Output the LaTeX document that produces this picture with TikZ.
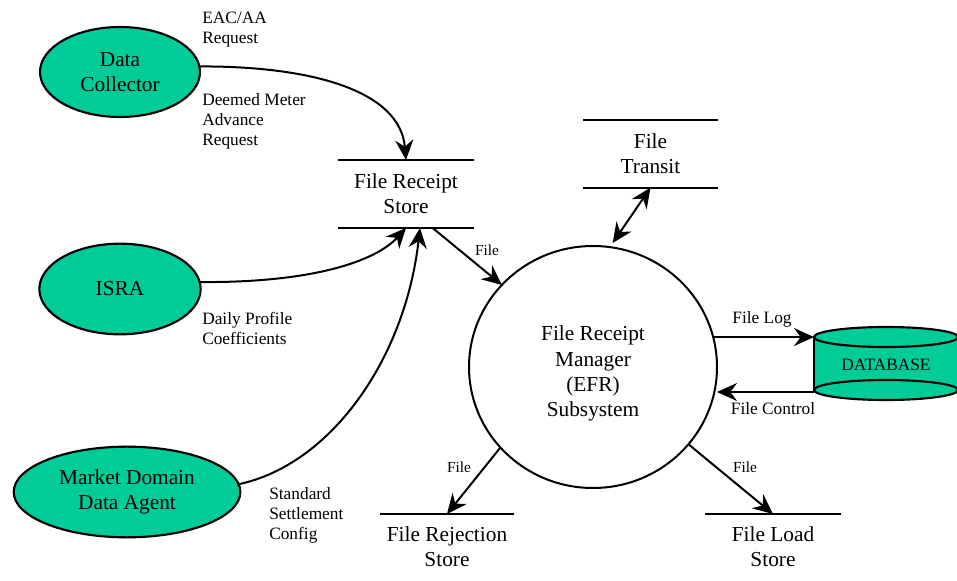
\documentclass[tikz,border=0pt]{standalone}
\usepackage{fontspec}
\setmainfont{Liberation Serif}
\usetikzlibrary{shapes.geometric,arrows.meta}
\definecolor{agentgreen}{RGB}{0,204,153}
\tikzset{
  big/.style={font=\fontsize{16}{19}\selectfont, align=center},
  small/.style={font=\fontsize{13}{15}\selectfont, align=left, inner sep=0pt},
  tiny/.style={font=\fontsize{11.5}{14}\selectfont, inner sep=0pt},
  agent/.style={ellipse, draw, line width=1.6pt, fill=agentgreen, inner sep=0pt, outer sep=0pt, big},
  process/.style={ellipse, draw, line width=1.5pt, inner sep=0pt, outer sep=0pt, big},
  store/.style={big, inner sep=0pt, outer sep=0pt,
    append after command={
      \pgfextra{\draw[line width=1.6pt] (\tikzlastnode.north west) -- (\tikzlastnode.north east)
        (\tikzlastnode.south west) -- (\tikzlastnode.south east);}}},
  opstore/.style={big, inner sep=0pt, outer sep=0pt,
    append after command={
      \pgfextra{\draw[line width=1.6pt] (\tikzlastnode.north west) -- (\tikzlastnode.north east);}}},
  tip/.style={Stealth[length=15pt,width=13.5pt,inset=5pt]},
  flow/.style={line width=1.5pt, -{Stealth[length=15pt,width=13.5pt,inset=5pt]}},
  twoway/.style={line width=1.5pt, {Stealth[length=15pt,width=13.5pt,inset=5pt]}-{Stealth[length=15pt,width=13.5pt,inset=5pt]}},
}
\begin{document}
\begin{tikzpicture}[x=0.75pt,y=-0.75pt]
\useasboundingbox (0,0) rectangle (957,581);

% external agents
\node[agent, minimum width=120pt, minimum height=67.5pt] (dc) at (120,72) {Data\\Collector};
\node[agent, minimum width=121pt, minimum height=68pt] (isra) at (120,289) {ISRA};
\node[agent, minimum width=170pt, minimum height=68pt] (mda) at (127,492) {Market Domain\\Data Agent};

% central process
\node[process, minimum width=186pt, minimum height=181.5pt] (mgr) at (593,367) {\\[2pt]File Receipt\\Manager\\(EFR)\\Subsystem};

% data stores
\node[store, minimum width=102pt, minimum height=51pt] (frs) at (406,194) {File Receipt\\Store};
\node[store, minimum width=101pt, minimum height=50.5pt] (ft) at (650.5,154) {File\\Transit};
\node[opstore, minimum width=100.5pt, minimum height=49.5pt] (rej) at (447,547) {File Rejection\\Store};
\node[opstore, minimum width=102pt, minimum height=49.5pt] (load) at (773,547) {File Load\\Store};

% database cylinder
\fill[agentgreen] (814,337) -- (814,390) arc[start angle=180, end angle=360, x radius=54pt, y radius=7.5pt]
  -- (958,337) -- cycle;
\filldraw[fill=agentgreen, line width=1.6pt] (886,337) ellipse[x radius=54pt, y radius=7.5pt];
\draw[line width=1.6pt] (886,390) ellipse[x radius=54pt, y radius=7.5pt];
\draw[line width=1.6pt] (814,337) -- (814,390) (958,337) -- (958,390);
\node[font=\fontsize{13}{15}\selectfont, minimum width=108pt, minimum height=41.25pt, inner sep=0pt, outer sep=0pt] (db) at (886,364.5) {DATABASE};

% flows into the receipt store
\draw[flow] (dc.4) .. controls (310,66) and (400,90) .. (frs.north);
\draw[flow] (isra.5) .. controls (310,283) and (375,262) .. (frs.south);
\draw[flow] (mda.4) .. controls (330,465) and (405,360) .. ([xshift=10.5pt]frs.south);

% flows around the manager
\draw[flow] ([xshift=20pt]frs.south) -- (mgr.138);
\draw[twoway, shorten >=3.75pt] (ft.south) -- (mgr.82);
\draw[flow] (mgr.221) -- (rej.north);
\draw[flow] (mgr.321) -- (load.north);
\draw[flow] (mgr.14) -- (mgr.14 -| db.west);
\draw[flow] (db.south west) -- (db.south west -| mgr.east);

% flow labels
\node[small, anchor=west] (l1) at (202,30) {EAC/AA\\Request};
\node[small, anchor=west] (l2) at (202,121) {Deemed Meter\\Advance\\Request};
\node[small, anchor=west] (l3) at (202,328) {Daily Profile\\Coefficients};
\node[small, anchor=west] (l4) at (269,515) {Standard\\Settlement\\Config};
\node[tiny] (l5) at (487,250) {File};
\node[tiny] (l6) at (459,467) {File};
\node[tiny] (l7) at (745,467) {File};
\node[small] (l8) at (762,319) {File Log};
\node[small] (l9) at (773,409) {File Control};
\end{tikzpicture}
\end{document}
